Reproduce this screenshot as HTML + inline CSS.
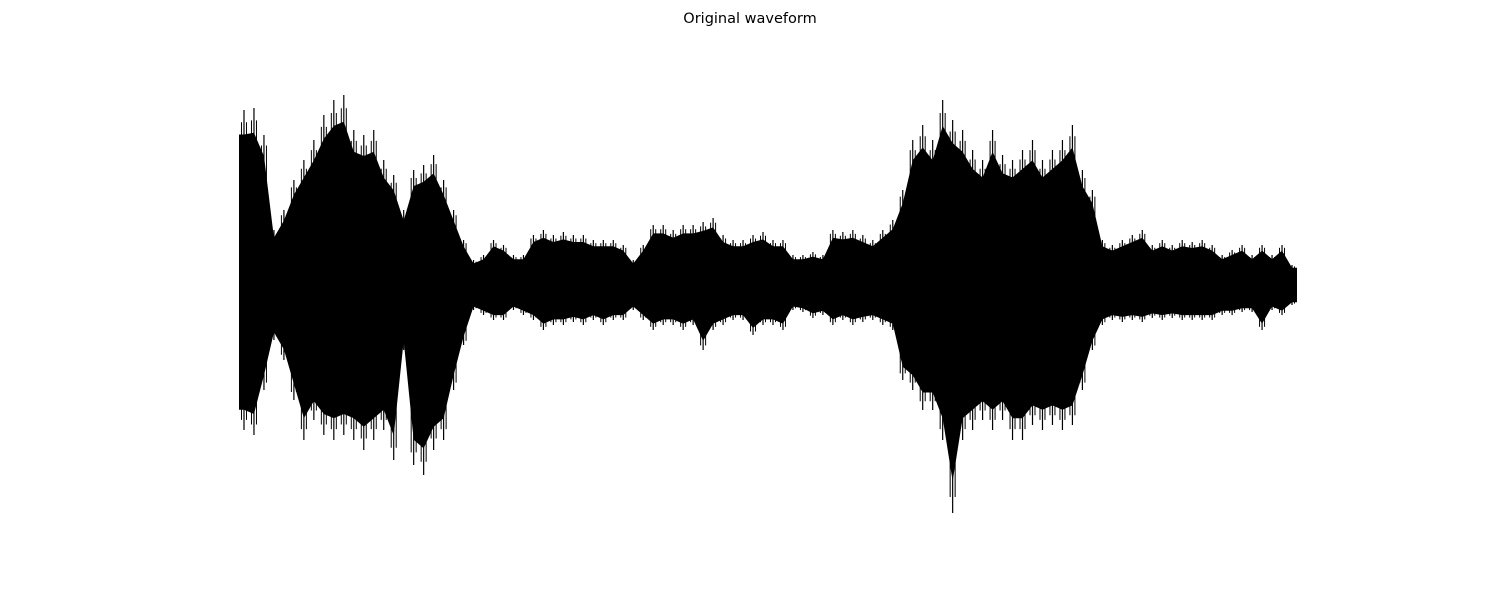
<!DOCTYPE html>
<html><head><meta charset="utf-8"><style>
html,body{margin:0;padding:0;background:#fff;width:1500px;height:600px;overflow:hidden}
svg{display:block}
</style></head><body>
<svg id="chart" width="1500" height="600" xmlns="http://www.w3.org/2000/svg">
<rect width="1500" height="600" fill="#fff"/>
<text x="750" y="23" text-anchor="middle" font-family="DejaVu Sans, Liberation Sans, sans-serif" font-size="14.5" fill="#000">Original waveform</text>
<g id="wave"></g>
</svg>
<script>
const upperEnvelope = [175,177,150,55,75,105,125,145,170,185,190,155,150,155,125,110,75,115,120,130,105,75,45,25,30,45,40,30,30,50,55,50,53,50,50,45,45,45,40,25,40,60,60,55,60,60,63,67,50,45,45,50,53,45,45,30,30,33,30,55,53,55,50,45,55,65,95,145,160,145,185,165,155,135,125,155,130,125,135,145,125,135,145,160,115,95,45,40,45,50,55,40,45,40,45,43,45,40,30,35,40,30,40,30,40,20];
const lowerEnvelope = [-145,-150,-105,-55,-75,-115,-155,-135,-150,-155,-150,-155,-165,-155,-145,-175,-65,-180,-190,-165,-155,-105,-60,-25,-30,-35,-35,-25,-30,-35,-45,-40,-40,-37,-40,-35,-40,-35,-35,-25,-35,-45,-40,-40,-45,-40,-65,-45,-40,-35,-35,-50,-40,-40,-45,-25,-27,-33,-30,-40,-35,-40,-37,-35,-40,-45,-95,-105,-125,-125,-155,-228,-155,-145,-135,-145,-135,-155,-155,-140,-145,-140,-145,-140,-105,-65,-40,-35,-37,-35,-37,-33,-35,-33,-35,-35,-35,-35,-30,-30,-27,-27,-45,-25,-30,-20];

const X0 = 239, X1 = 1297, YC = 285;
const n = Math.min(upperEnvelope.length, lowerEnvelope.length);
const step = (X1 - X0) / n;
const xScale = i => X0 + (i + 0.5) * step;
const yScale = v => YC - v;
const NS = "http://www.w3.org/2000/svg";
const g = document.getElementById("wave");
const CORE = 0.86;

let pts = [];
pts.push(X0 + "," + yScale(upperEnvelope[0] * CORE));
for (let i = 0; i < n; i++) pts.push(xScale(i) + "," + yScale(upperEnvelope[i] * CORE));
pts.push(X1 + "," + yScale(upperEnvelope[n-1] * CORE));
pts.push(X1 + "," + yScale(lowerEnvelope[n-1] * CORE));
for (let i = n - 1; i >= 0; i--) pts.push(xScale(i) + "," + yScale(lowerEnvelope[i] * CORE));
pts.push(X0 + "," + yScale(lowerEnvelope[0] * CORE));
const poly = document.createElementNS(NS, "polygon");
poly.setAttribute("points", pts.join(" "));
poly.setAttribute("fill", "#000");


g.appendChild(poly);

for (let i = 0; i < n; i++) {
  const offs = [0.25, 0.5, 0.75];
  for (let k = 0; k < offs.length; k++) {
    const x = X0 + (i + offs[k]) * step;
    const ln = document.createElementNS(NS, "line");
    ln.setAttribute("x1", x); ln.setAttribute("x2", x);
    ln.setAttribute("y1", yScale(upperEnvelope[i] * (k === 1 ? 1 : 0.93)));
    ln.setAttribute("y2", yScale(lowerEnvelope[i] * (k === 1 ? 1 : 0.93)));
    ln.setAttribute("stroke", "#000");
    ln.setAttribute("stroke-width", k === 1 ? "1.2" : "1");
    
    
    g.appendChild(ln);
  }
}
</script>
</body></html>
